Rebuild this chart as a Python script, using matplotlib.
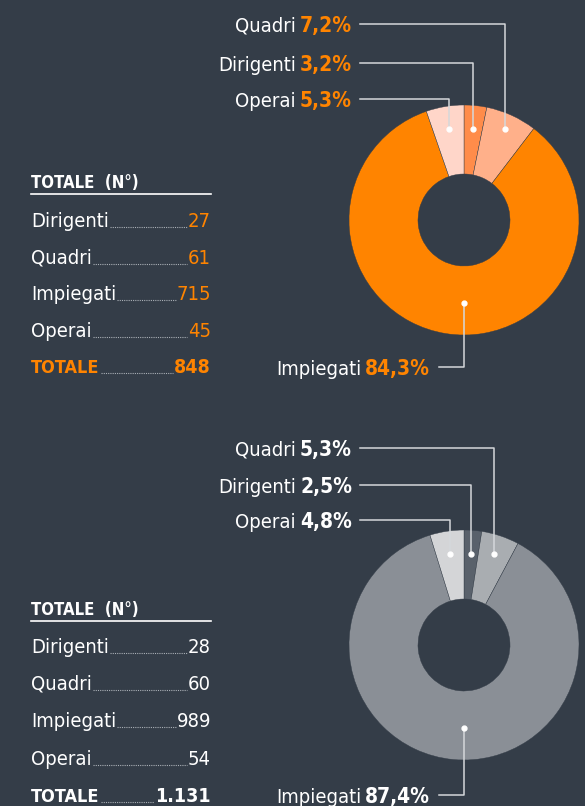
import matplotlib
matplotlib.use("Agg")
import matplotlib.pyplot as plt
import math

plt.rcParams['font.family'] = ['DejaVu Sans']
plt.rcParams['font.stretch'] = 'condensed'

# dati
categorie = ['Dirigenti', 'Quadri', 'Impiegati', 'Operai']
valori_1 = [27, 61, 715, 45]
valori_2 = [28, 60, 989, 54]
totale_1 = '848'
totale_2 = '1.131'
perc_1 = ['3,2%', '7,2%', '84,3%', '5,3%']
perc_2 = ['2,5%', '5,3%', '87,4%', '4,8%']

colori_1 = ['#ff8c4a', '#ffb08a', '#ff8400', '#ffd6c9']
colori_2 = ['#59616b', '#a9adb1', '#8a8f96', '#d4d5d7']

BG = '#343d48'
ARANCIO = '#ff8400'
LINEA = '#d5d8db'

fig = plt.figure(figsize=(5.85, 8.06), dpi=100, facecolor=BG)
ax = fig.add_axes([0, 0, 1, 1])
ax.set_facecolor(BG)
r = fig.canvas.get_renderer()


def limiti():
    ax.set_xlim(0, 585)
    ax.set_ylim(806, 0)
    ax.set_aspect('auto')


def estensione(t):
    bb = t.get_window_extent(r).transformed(ax.transData.inverted())
    return min(bb.x0, bb.x1), max(bb.x0, bb.x1)


def etichetta(x, y, nome, perc, col):
    t = ax.text(x, y, perc, color=col, fontsize=15, fontweight='bold',
                ha='right', va='baseline')
    x0, _ = estensione(t)
    ax.text(x0 - 4, y, nome, color='white', fontsize=14.5,
            ha='right', va='baseline')


def ciambella(cy, valori, colori, perc, col_perc, righe_y, imp_y):
    cx, R = 464, 115
    wedges, _ = ax.pie(valori, colors=colori, center=(cx, cy), radius=R,
                       startangle=-90, counterclock=True,
                       wedgeprops=dict(width=R * 0.6, linewidth=0.3, edgecolor=BG))
    limiti()
    # etichette e linee guida: Quadri, Dirigenti, Operai
    dot_y = cy - 91
    for i, ly in zip([1, 0, 3], righe_y):
        w = wedges[i]
        m = math.radians((w.theta1 + w.theta2) / 2)
        px = cx + (dot_y - cy) * math.cos(m) / math.sin(m)
        ax.plot([360, px, px], [ly, ly, dot_y], color=LINEA, lw=1.1)
        ax.plot(px, dot_y, 'o', color='white', ms=3.5)
        etichetta(352, ly + 8, categorie[i], perc[i], col_perc)
    # Impiegati
    ax.plot([439, cx, cx], [imp_y, imp_y, cy + 83], color=LINEA, lw=1.1)
    ax.plot(cx, cy + 83, 'o', color='white', ms=3.5)
    etichetta(430, imp_y + 8, categorie[2], perc[2], col_perc)


def tabella(y_head, valori, totale, col_val, righe):
    x0, x1 = 31, 211
    ax.text(x0, y_head, 'TOTALE  (N°)', color='white', fontsize=12,
            fontweight='bold', ha='left', va='baseline')
    ax.plot([x0, x1], [y_head + 6, y_head + 6], color='white', lw=1.2)
    nomi = categorie + ['TOTALE']
    vals = [str(v) for v in valori] + [totale]
    for k, (n, v, y) in enumerate(zip(nomi, vals, righe)):
        ultimo = k == len(nomi) - 1
        c_nome = col_val if ultimo else 'white'
        fw = 'bold' if ultimo else 'normal'
        fs = 13 if ultimo else 14.5
        a = ax.text(x0, y, n, color=c_nome, fontsize=fs, fontweight=fw,
                    ha='left', va='baseline')
        b = ax.text(x1, y, v, color=col_val, fontsize=fs + (1 if ultimo else 0),
                    fontweight=fw, ha='right', va='baseline')
        _, xa = estensione(a)
        xb, _ = estensione(b)
        ax.plot([xa + 1, xb - 1], [y, y], color='#aab0b6', lw=0.8, ls=(0, (1, 1)))


limiti()
ciambella(220, valori_1, colori_1, perc_1, ARANCIO, [24, 63, 99], 367)
ciambella(645, valori_2, colori_2, perc_2, 'white', [448, 485, 520], 795)

tabella(188, valori_1, totale_1, ARANCIO, [227, 264, 300, 337, 373])
tabella(615, valori_2, totale_2, 'white', [653, 690, 727, 765, 802])

limiti()
ax.axis('off')

fig.savefig('out.png', dpi=100, facecolor=BG)
